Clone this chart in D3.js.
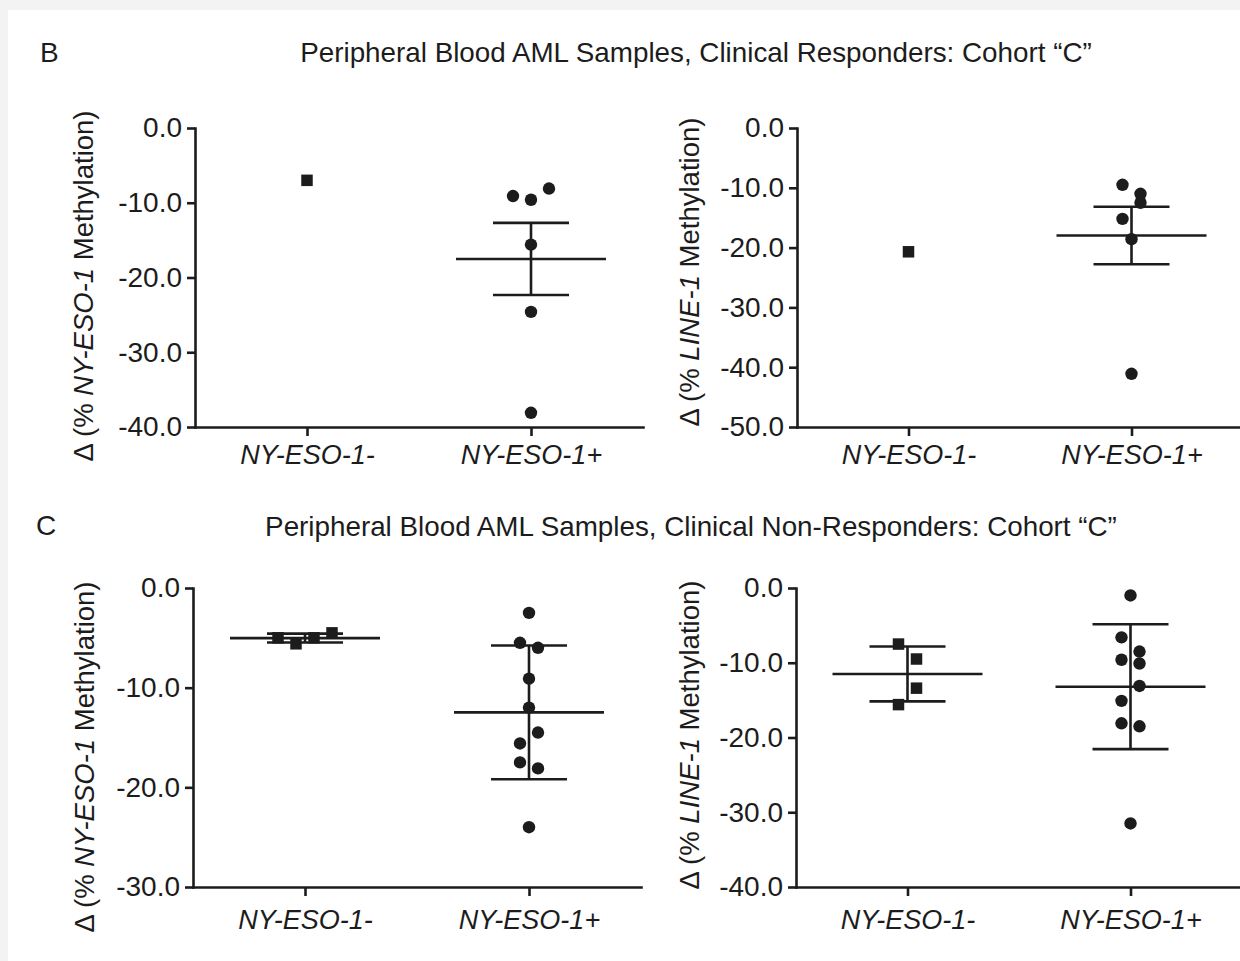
<!DOCTYPE html>
<html>
<head>
<meta charset="utf-8">
<script src="https://cdn.jsdelivr.net/npm/d3@7"></script>
<style>
  html, body { margin: 0; padding: 0; background: #f3f3f3; }
  svg { display: block; }
  text { white-space: pre; }
</style>
</head>
<body>
<svg id="chart" width="1240" height="961"></svg>
<script>
// ---------------- data ----------------
const categories = ["NY-ESO-1-", "NY-ESO-1+"];

const titleB = "Peripheral Blood AML Samples, Clinical Responders: Cohort \u201CC\u201D";
const titleC = "Peripheral Blood AML Samples, Clinical Non-Responders: Cohort \u201CC\u201D";

// B: clinical responders
const respEsoNeg  = [-7.0];
const respEsoPos  = [-9.1, -9.6, -8.1, -15.6, -24.6, -38.1];
const respLineNeg = [-20.7];
const respLinePos = [-9.5, -11.0, -15.2, -12.5, -18.6, -41.1];

// C: clinical non-responders
const nonEsoNeg  = [-5.0, -5.6, -5.0, -4.5];
const nonEsoPos  = [-2.5, -5.5, -6.0, -9.1, -12.0, -15.6, -14.5, -17.5, -18.1, -24.0];
const nonLineNeg = [-7.5, -9.5, -15.6, -13.4];
const nonLinePos = [-1.0, -6.6, -8.5, -9.6, -10.1, -15.1, -13.1, -18.1, -18.5, -31.5];

const ticksRespEso  = [0, -10, -20, -30, -40];
const ticksRespLine = [0, -10, -20, -30, -40, -50];
const ticksNonEso   = [0, -10, -20, -30];
const ticksNonLine  = [0, -10, -20, -30, -40];

// ---------------- layout ----------------
const FONT = "'Liberation Sans', Arial, Helvetica, sans-serif";
const INK = "#1c1c1c";
const LW = 2.6;

const panels = [
  { x0: 195, x1: 643, y0: 128, y1: 427, ticks: ticksRespEso,  gene: "NY-ESO-1",
    neg: respEsoNeg, pos: respEsoPos, err: "sem", lx: 83,  ly: 286, xlab: 37 },
  { x0: 797, x1: 1243, y0: 128, y1: 427, ticks: ticksRespLine, gene: "LINE-1",
    neg: respLineNeg, pos: respLinePos, err: "sem", lx: 689, ly: 272, xlab: 37 },
  { x0: 193, x1: 641, y0: 588, y1: 887, ticks: ticksNonEso,   gene: "NY-ESO-1",
    neg: nonEsoNeg, pos: nonEsoPos, err: "sd", lx: 84,  ly: 757, xlab: 42 },
  { x0: 796, x1: 1242, y0: 588, y1: 887, ticks: ticksNonLine,  gene: "LINE-1",
    neg: nonLineNeg, pos: nonLinePos, err: "sd", lx: 689, ly: 735, xlab: 42 }
];

const svg = d3.select("#chart");
svg.append("rect").attr("x", 8).attr("y", 10).attr("width", 1232).attr("height", 951).attr("fill", "#ffffff");

// panel letters & titles
svg.append("text").attr("x", 40).attr("y", 62).attr("font-family", FONT).attr("font-size", 28)
  .attr("fill", INK).text("B");
svg.append("text").attr("x", 36).attr("y", 535).attr("font-family", FONT).attr("font-size", 28)
  .attr("fill", INK).text("C");
svg.append("text").attr("x", 696).attr("y", 62).attr("text-anchor", "middle").attr("font-family", FONT)
  .attr("font-size", 27.8).attr("fill", INK).text(titleB);
svg.append("text").attr("x", 691).attr("y", 536).attr("text-anchor", "middle").attr("font-family", FONT)
  .attr("font-size", 27.8).attr("fill", INK).text(titleC);

const ROW_GAP = 17, SPREAD = 18;
function dodge(values, y, cx) {
  const pts = values.map((v, i) => ({ v, i, py: y(v) }));
  const sorted = pts.slice().sort((a, b) => a.py - b.py || a.i - b.i);
  const rows = [];
  let cur = null;
  sorted.forEach(p => {
    if (cur && p.py - cur[0].py < ROW_GAP) cur.push(p);
    else { cur = [p]; rows.push(cur); }
  });
  rows.forEach(r => {
    r.sort((a, b) => a.i - b.i);
    r.forEach((p, k) => { p.px = cx + (k - (r.length - 1) / 2) * SPREAD; });
  });
  return pts;
}

panels.forEach(P => {
  const g = svg.append("g");
  const y = d3.scaleLinear().domain([d3.min(P.ticks), 0]).range([P.y1, P.y0]);
  const x = d3.scalePoint().domain(categories).range([P.x0, P.x1]).padding(0.5);

  // y axis
  const ya = g.append("g").attr("transform", `translate(${P.x0},0)`)
    .call(d3.axisLeft(y).tickValues(P.ticks).tickFormat(d => d.toFixed(1))
      .tickSize(8).tickSizeOuter(0).tickPadding(5));
  ya.attr("font-family", FONT).attr("font-size", 28);
  ya.select(".domain").attr("stroke", INK).attr("stroke-width", LW).attr("stroke-linecap", "square");
  ya.selectAll(".tick line").attr("stroke", INK).attr("stroke-width", LW);
  ya.selectAll(".tick text").attr("fill", INK);

  // x axis
  const xa = g.append("g").attr("transform", `translate(0,${P.y1})`)
    .call(d3.axisBottom(x).tickSize(9).tickSizeOuter(0));
  xa.attr("font-family", FONT).attr("font-size", 27);
  xa.select(".domain").attr("stroke", INK).attr("stroke-width", LW).attr("stroke-linecap", "square");
  xa.selectAll(".tick line").attr("stroke", INK).attr("stroke-width", LW);
  xa.selectAll(".tick text").attr("fill", INK).attr("font-style", "italic")
    .attr("dy", null).attr("y", P.xlab);

  // y label
  const t = g.append("text")
    .attr("transform", `translate(${P.lx},${P.ly}) rotate(-90)`)
    .attr("text-anchor", "middle").attr("dy", "0.35em")
    .attr("font-family", FONT).attr("font-size", 27.5).attr("fill", INK);
  t.append("tspan").text("\u0394 (% ");
  t.append("tspan").attr("font-style", "italic").text(P.gene);
  t.append("tspan").text(" Methylation)");

  // groups
  [[categories[0], P.neg, d3.symbolSquare, 132], [categories[1], P.pos, d3.symbolCircle, 121]]
    .forEach(([cat, vals, sym, size]) => {
      const cx = x(cat);
      const pts = dodge(vals, y, cx);
      g.append("g").selectAll("path").data(pts).join("path")
        .attr("d", d3.symbol().type(sym).size(size))
        .attr("transform", d => `translate(${d.px},${d.py})`)
        .attr("fill", INK);

      if (vals.length > 1) {
        const m = d3.mean(vals);
        const sd = d3.deviation(vals);
        const e = P.err === "sem" ? sd / Math.sqrt(vals.length) : sd;
        const lg = g.append("g").attr("stroke", INK).attr("stroke-width", LW).attr("fill", "none");
        lg.append("line").attr("x1", cx - 75).attr("x2", cx + 75).attr("y1", y(m)).attr("y2", y(m));
        lg.append("line").attr("x1", cx - 38).attr("x2", cx + 38).attr("y1", y(m + e)).attr("y2", y(m + e));
        lg.append("line").attr("x1", cx - 38).attr("x2", cx + 38).attr("y1", y(m - e)).attr("y2", y(m - e));
        lg.append("line").attr("x1", cx).attr("x2", cx).attr("y1", y(m + e)).attr("y2", y(m - e));
      }
    });
});
</script>
</body>
</html>
